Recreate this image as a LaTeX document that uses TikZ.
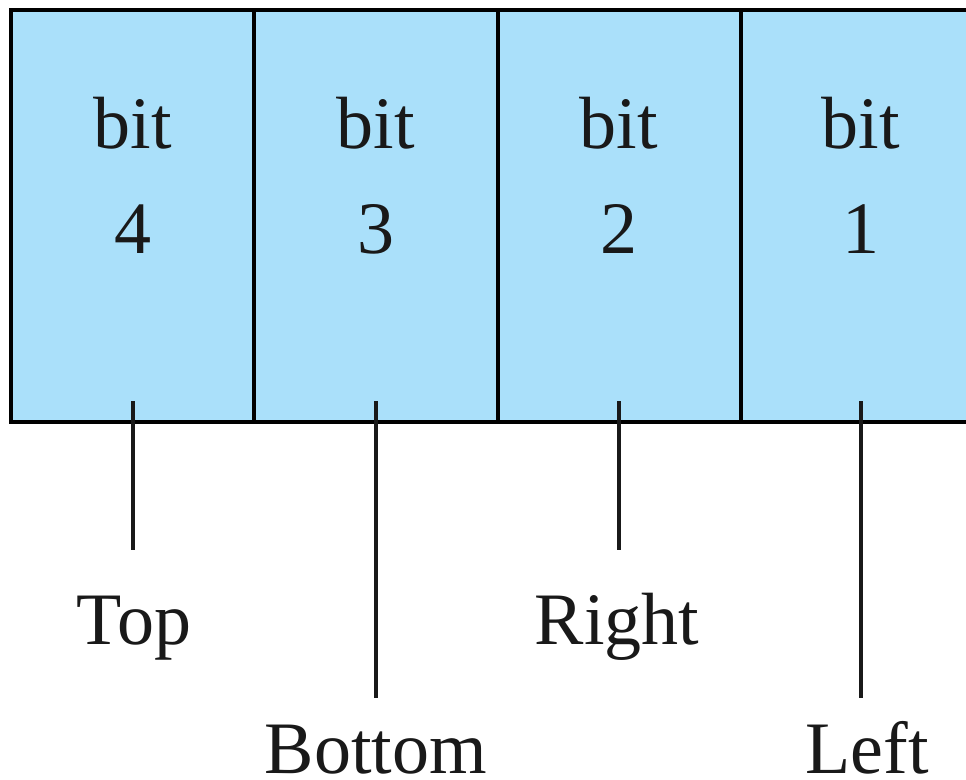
\documentclass[tikz,border=0pt]{standalone}
\usepackage{fontspec}
\setmainfont{Liberation Serif}
\definecolor{cellblue}{RGB}{170,224,250}
\begin{document}
\begin{tikzpicture}[x=1pt,y=-1pt,
  cell/.style={draw=black, line width=4pt, fill=cellblue, minimum width=243.5pt, minimum height=412pt, inner sep=0pt, outer sep=0pt, anchor=north west},
  txt/.style={font=\fontsize{74}{80}\selectfont, anchor=base, inner sep=0pt, text=black!90},
  stub/.style={line width=4pt, draw=black!90}]
\useasboundingbox (0,0) rectangle (966,779);
\fill[white] (0,0) rectangle (966,779);
\clip (0,0) rectangle (966,779);
% cells
\node[cell] (c4) at (10.5,10) {};
\node[cell] (c3) at (254,10) {};
\node[cell] (c2) at (497.5,10) {};
\node[cell] (c1) at (741,10) {};
% cell texts
\node[txt] (b4) at (133,148) {bit};
\node[txt] (n4) at (133,253) {4};
\node[txt] (b3) at (376,148) {bit};
\node[txt] (n3) at (376,253) {3};
\node[txt] (b2) at (619,148) {bit};
\node[txt] (n2) at (619,253) {2};
\node[txt] (b1) at (861,148) {bit};
\node[txt] (n1) at (861,253) {1};
% labels
\node[txt] (top) at (134,644) {Top};
\node[txt] (bottom) at (376,773) {Bottom};
\node[txt] (right) at (617,644) {Right};
\node[txt] (left) at (867,773) {Left};
% stubs
\coordinate (s4) at (133,401);
\coordinate (e4) at (133,550);
\coordinate (s3) at (376,401);
\coordinate (e3) at (376,698);
\coordinate (s2) at (619,401);
\coordinate (e2) at (619,550);
\coordinate (s1) at (861,401);
\coordinate (e1) at (861,698);
\draw[stub] (s4) -- (e4);
\draw[stub] (s3) -- (e3);
\draw[stub] (s2) -- (e2);
\draw[stub] (s1) -- (e1);
\end{tikzpicture}
\end{document}
